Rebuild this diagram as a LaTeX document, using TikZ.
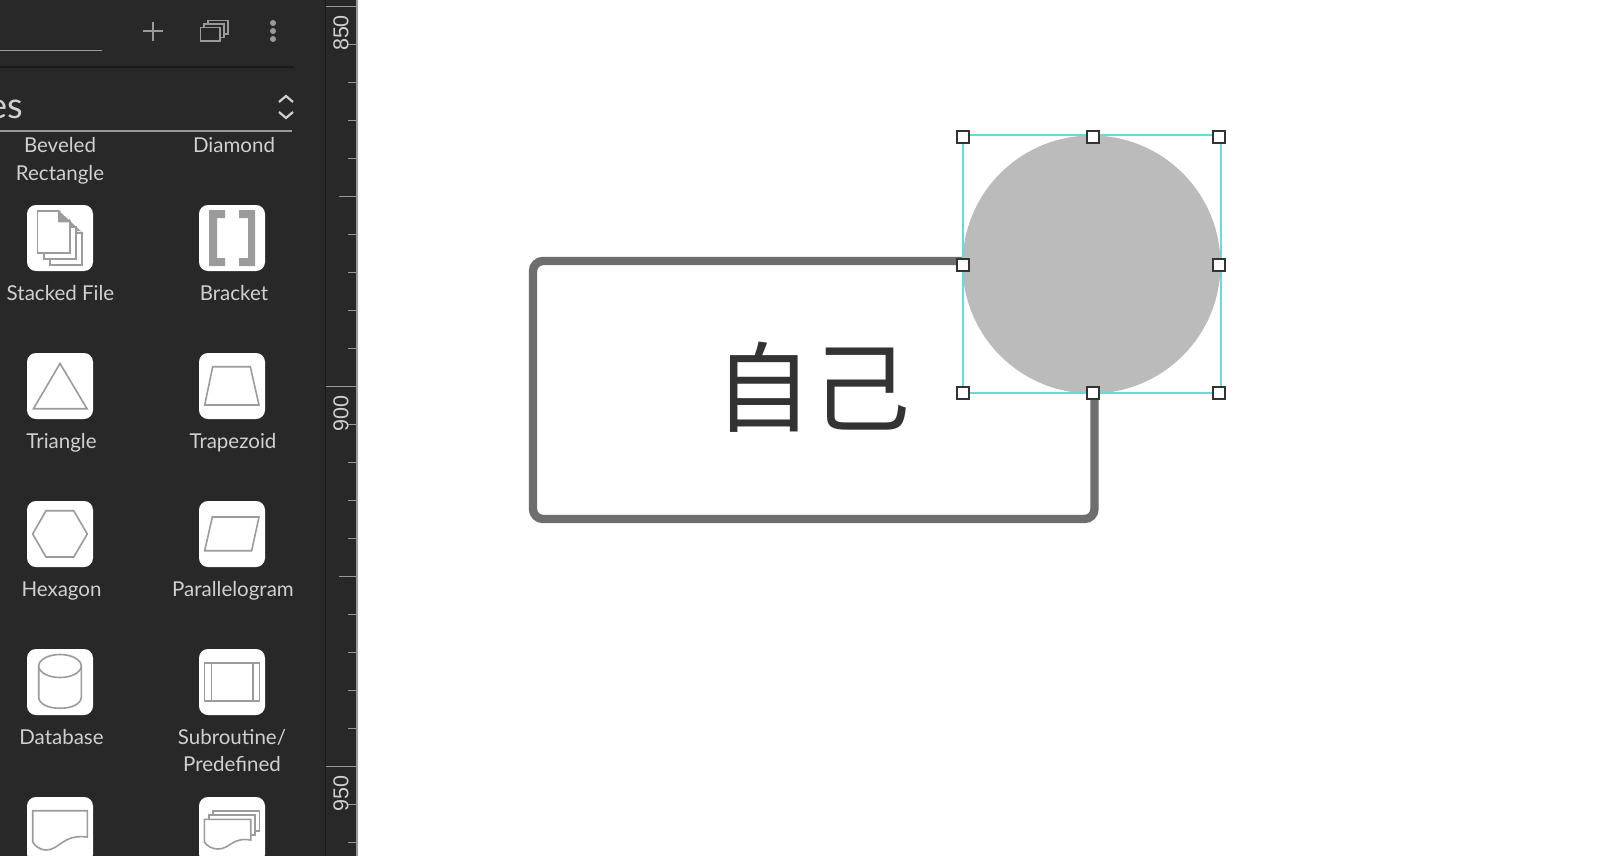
\documentclass[tikz,border=0pt]{standalone}
\usepackage{fontspec}
\setmainfont{Lato}
\newfontfamily\cjk{Noto Sans CJK SC}
\newfontfamily\rulerfont{Liberation Sans}
\definecolor{panel}{HTML}{282828}
\definecolor{edge}{HTML}{1A1A1A}
\definecolor{lab}{HTML}{D0D0D0}
\definecolor{ico}{HTML}{9B9B9B}
\definecolor{tick}{HTML}{9A9A9A}
\definecolor{conn}{HTML}{6E6E6E}
\definecolor{disc}{HTML}{BBBBBB}
\definecolor{sel}{HTML}{62DDD8}
\definecolor{ink}{HTML}{333333}
\tikzset{
  label text/.style={text=lab,inner sep=0pt,anchor=base,font=\fontsize{20.5}{24}\selectfont},
  tile/.style={fill=white,rounded corners=9pt},
  glyph/.style={draw=ico,line width=1.6pt,fill=white,line join=miter},
  uirule/.style={draw=tick,line width=1.6pt},
  handle/.style={draw=ink,fill=white,line width=2.2pt,minimum width=12pt,minimum height=12pt,inner sep=0pt,rectangle},
  rulernum/.style={text=lab,rotate=90,inner sep=0pt,font=\rulerfont\fontsize{21.5}{24}\selectfont},
}
\begin{document}
\begin{tikzpicture}[x=1pt,y=-1pt]
\useasboundingbox (0,0) rectangle (1614,856);
\clip (0,0) rectangle (1614,856);
\fill[white] (0,0) rectangle (1614,856);
\fill[panel] (0,0) rectangle (357,856);
% ruler
\draw[edge,line width=1.4pt] (325.5,0) -- (325.5,856);
\draw[tick,line width=1.8pt] (357,0) -- (357,856);
\foreach \i in {0,...,22}{
  \pgfmathsetmacro{\yy}{6.7+38*\i}
  \pgfmathtruncatemacro{\rt}{mod(\i,10)==0 ? 0 : (mod(\i,5)==0 ? 1 : 2)}
  \ifcase\rt
    \draw[tick,line width=1.3pt] (326,\yy) -- (357,\yy);
  \or
    \draw[tick,line width=1.3pt] (339,\yy) -- (357,\yy);
  \or
    \draw[tick,line width=1.3pt] (348,\yy) -- (357,\yy);
  \fi
}
\node[rulernum] (r850) at (341,33) {850};
\node[rulernum] (r900) at (341,413.5) {900};
\node[rulernum] (r950) at (341,793.5) {950};
% top bar
\draw[uirule] (0,50.7) -- (102,50.7);
\draw[tick,line width=1.3pt] (143,31) -- (163,31) (153,22) -- (153,41);
\draw[tick,line width=1.6pt,fill=panel] (207.7,20.7) rectangle (227.7,34);
\draw[tick,line width=1.6pt,fill=panel] (204,24) rectangle (224,37.5);
\draw[tick,line width=1.6pt,fill=panel] (200.5,27.5) rectangle (220,41);
\fill[tick] (273,23) circle (3) (273,31) circle (3) (273,39) circle (3);
\draw[edge,line width=1.8pt] (0,67) -- (294,67);
% section header
\node[text=lab,inner sep=0pt,anchor=base east,font=\fontsize{36}{40}\selectfont] (hdr) at (23,118.5) {es};
\draw[lab,line width=2.2pt] (279,102) -- (286,96) -- (293,102);
\draw[lab,line width=2.2pt] (279,112) -- (286,118) -- (293,112);
\draw[uirule,line width=2pt] (0,131) -- (292,131);
% labels
\node[label text] (l1) at (60,153) {Beveled};
\node[label text] (l2) at (60,180.3) {Rectangle};
\node[label text] (l3) at (234,153) {Diamond};
\node[label text] (l4) at (60.5,300.3) {Stacked File};
\node[label text] (l5) at (234,300.3) {Bracket};
\node[label text] (l6) at (61.5,448.5) {Triangle};
\node[label text] (l7) at (233,448.5) {Trapezoid};
\node[label text] (l8) at (61.5,596.5) {Hexagon};
\node[label text] (l9) at (233,596.5) {Parallelogram};
\node[label text] (l10) at (61.5,744) {Database};
\node[label text] (l11) at (232,744) {Subroutine/};
\node[label text] (l12) at (232,771.7) {Predefined};
% tiles
\foreach \x in {27,199}\foreach \y in {205,353,501,649,797}
  \fill[tile] (\x,\y) rectangle ++(66,66);
% stacked file
\draw[glyph] (49.7,233) rectangle (82,265);
\draw[glyph] (43.7,227) rectangle (76,259);
\draw[glyph] (37.5,210.8) rectangle (70,252.7);
\fill[white] (58,209) -- (85,209) -- (85,233) -- cycle;
\fill[ico] (58,210) -- (83,233) -- (83,236) -- (81,236) -- (81,231) -- (78,231) -- (75,231) -- (75,226) -- (71,226) -- (71,222.3) -- (58,222.3) -- cycle;
% bracket
\fill[ico] (209,210) -- (225,210) -- (225,218) -- (217,218) -- (217,258) -- (225,258) -- (225,266) -- (209,266) -- cycle;
\fill[ico] (255,210) -- (239,210) -- (239,218) -- (248,218) -- (248,258) -- (239,258) -- (239,266) -- (255,266) -- cycle;
% triangle, trapezoid
\draw[glyph] (60,363.5) -- (33.5,408.7) -- (87,408.7) -- cycle;
\draw[glyph] (212.7,366.7) -- (250.3,366.7) -- (259,405) -- (204.7,405) -- cycle;
% hexagon, parallelogram
\draw[glyph] (32.7,534) -- (46,510.7) -- (73.7,510.7) -- (87.3,534) -- (73.7,557) -- (46,557) -- cycle;
\draw[glyph] (212.3,517) -- (259,517) -- (251.7,550.7) -- (204.7,550.7) -- cycle;
% database
\draw[glyph] (38.7,666) -- (38.7,697) .. controls (38.7,712) and (81.3,712) .. (81.3,697) -- (81.3,666);
\draw[glyph] (60,666) ellipse (21.3 and 11.5);
% subroutine
\draw[glyph] (204.5,662.7) rectangle (259.3,701);
\draw[glyph] (211.3,662.7) -- (211.3,701) (252.7,662.7) -- (252.7,701);
% document
\draw[glyph] (32.7,810.7) -- (87.3,810.7) -- (87.3,837) .. controls (62,834) and (60,850) .. (46,850) .. controls (40,850) and (35,846) .. (32.7,842) -- cycle;
% multi document
\draw[glyph] (212.7,810.7) -- (259.3,810.7) -- (259.3,831) -- (212.7,831) -- cycle;
\draw[glyph] (208.7,815) -- (255,815) -- (255,835) -- (208.7,835) -- cycle;
\draw[glyph] (204.3,819.3) -- (250.7,819.3) -- (250.7,840) .. controls (232,837) and (230,849) .. (218,849) .. controls (212,849) and (207,846) .. (204.3,842) -- cycle;
% canvas
\coordinate (cTop) at (968,261);
\coordinate (cBot) at (1094.5,385);
\draw[conn,line width=8.4pt,rounded corners=10pt] (cTop) -- (533,261) -- (533,519) -- (1094.5,519) -- (cBot);
\node[inner sep=0pt,text=ink,font=\cjk\fontsize{98}{104}\selectfont] (self) at (812.5,387.5) {自己};
\fill[disc] (1091.5,264.5) circle (129);
\draw[sel,line width=1.4pt] (963,135) rectangle (1221,393);
\node[handle] (h1) at (963,137) {};
\node[handle] (h2) at (1093,137) {};
\node[handle] (h3) at (1219,137) {};
\node[handle] (h4) at (963,265) {};
\node[handle] (h5) at (1219,265) {};
\node[handle] (h6) at (963,393) {};
\node[handle] (h7) at (1093,393) {};
\node[handle] (h8) at (1219,393) {};
\end{tikzpicture}
\end{document}
